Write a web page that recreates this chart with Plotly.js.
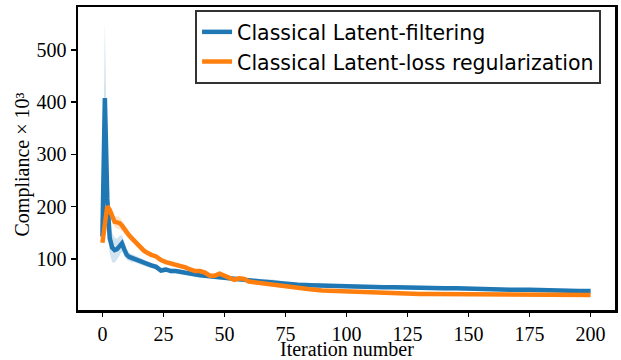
<!DOCTYPE html>
<html>
<head>
<meta charset="utf-8">
<script src="https://cdn.plot.ly/plotly-3.0.1.min.js"></script>
<style>html,body{margin:0;padding:0;background:#fff;}#chart{width:621px;height:360px;}</style>
</head>
<body>
<div id="chart"></div>
<script>
// Iteration numbers (sampled)
const iterations = [0,1,2,3,4,5,6,7,8,9,10,11,12,13,14,15,16,17,18,19,20,
  22,24,26,28,30,32,34,36,38,40,42,44,46,48,50,52,54,56,58,60,
  65,70,75,80,85,90,95,100,105,110,115,120,125,130,135,140,145,150,155,160,165,170,175,180,185,190,195,200];

// Classical Latent-filtering: mean and spread
const filteringMean = [143,408,215,140,122,117,119,126,130,118,108,104,102,101,99,97,95,92,90,89,88,
  85,78,80,77,77,75,73,72,70,69,68,67,65,65,64,63,63,62,61,59,
  57,55,52,51,50,49,48,48,47,47,46,46,45,45,44,44,44,43,43,42,42,41,41,40,40,40,39,39];
const filteringSpread = [10,145,60,30,28,24,20,18,16,12,10,8,8,7,7,6,6,6,5,5,5,
  5,5,5,5,4,4,4,4,4,4,4,4,4,4,4,4,4,4,4,4,
  5,6,4,4,4,4,4,4,4,4,4,4,4,4,4,4,4,3,3,3,3,3,3,3,3,3,3,3];

// Classical Latent-loss regularization: mean and spread
const regularizationMean = [131,165,201,194,180,171,170,169,164,157,150,145,140,135,129,123,119,116,113,110,108,
  105,98,94,92,88,86,84,80,77,77,74,68,68,72,68,64,60,63,62,57,
  54,50,46,44,42,40,39,37,36,35,35,34,34,33,33,33,32,32,32,32,32,31,31,31,31,31,31,31];
const regularizationSpread = [3,8,10,10,10,10,12,12,10,9,8,7,7,6,6,5,5,5,4,4,4,
  4,4,4,5,4,4,4,3,3,4,3,3,5,5,4,4,4,5,4,3,
  3,3,2,2,2,2,2,2,2,2,2,2,2,2,2,2,2,2,2,2,2,2,2,2,2,2,2,2];

const seriesNames = ['Classical Latent-filtering', 'Classical Latent-loss regularization'];
const lineColors = ['#1f77b4', '#ff7f0e'];
const bandColors = ['rgba(31,119,180,0.2)', 'rgba(255,127,14,0.2)'];
const xTickVals = [0,25,50,75,100,125,150,175,200];
const yTickVals = [100,200,300,400,500];
const xTitle = 'Iteration number';
const yTitle = 'Compliance × 10³';

function band(mean, spread, color) {
  const up = mean.map((m, i) => m + spread[i]);
  const lo = mean.map((m, i) => m - spread[i]);
  return [
    {x: iterations, y: lo, mode: 'lines', line: {width: 0}, showlegend: false, hoverinfo: 'skip'},
    {x: iterations, y: up, mode: 'lines', line: {width: 0}, fill: 'tonexty', fillcolor: color, showlegend: false, hoverinfo: 'skip'}
  ];
}

const traces = [
  ...band(filteringMean, filteringSpread, bandColors[0]),
  ...band(regularizationMean, regularizationSpread, bandColors[1]),
  {x: iterations, y: filteringMean, mode: 'lines', name: seriesNames[0], line: {color: lineColors[0], width: 4.5}},
  {x: iterations, y: regularizationMean, mode: 'lines', name: seriesNames[1], line: {color: lineColors[1], width: 4.5}}
];

const serifFont = {family: 'Liberation Serif, Times New Roman, serif', size: 20, color: '#000'};

const layout = {
  width: 621, height: 360,
  margin: {l: 78, r: 6, t: 7, b: 50},
  paper_bgcolor: '#fff', plot_bgcolor: '#fff',
  showlegend: true,
  legend: {
    x: 0.218, y: 0.99, xanchor: 'left', yanchor: 'top', traceorder: 'normal',
    bgcolor: '#fff', bordercolor: '#333', borderwidth: 2,
    font: {family: 'DejaVu Sans, sans-serif', size: 20.5, color: '#000'}
  },
  xaxis: {
    range: [-10, 210], tickvals: xTickVals,
    showgrid: false, zeroline: false,
    showline: true, mirror: true, linecolor: '#000', linewidth: 2.5,
    ticks: 'outside', ticklen: 4, tickwidth: 1.5, tickcolor: '#000',
    tickfont: serifFont
  },
  yaxis: {
    range: [2.5, 582], tickvals: yTickVals,
    showgrid: false, zeroline: false,
    showline: true, mirror: true, linecolor: '#000', linewidth: 2.5,
    ticks: 'outside', ticklen: 5, tickwidth: 1.5, tickcolor: '#000',
    tickfont: serifFont
  },
  annotations: [
    {text: xTitle, xref: 'paper', yref: 'paper', x: 0.5, y: 0, xanchor: 'center', yanchor: 'middle',
     yshift: -39, borderpad: 0, showarrow: false, font: serifFont},
    {text: yTitle, xref: 'paper', yref: 'paper', x: 0, y: 0.5, xanchor: 'center', yanchor: 'middle',
     xshift: -56, yshift: -6, textangle: -90, showarrow: false, font: serifFont}
  ]
};

Plotly.newPlot('chart', traces, layout, {displayModeBar: false, staticPlot: true});
</script>
</body>
</html>
